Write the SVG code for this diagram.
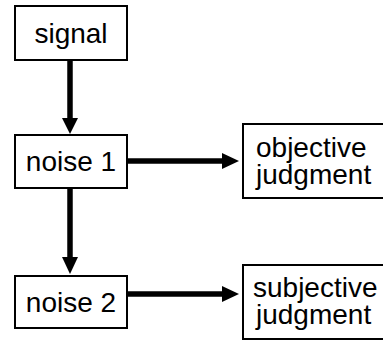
<svg xmlns="http://www.w3.org/2000/svg" width="383" height="341" viewBox="0 0 383 341">
  <style>
    .box { fill: #ffffff; stroke: #000000; stroke-width: 2; }
    .lbl { font-family: "Liberation Sans", Arial, Helvetica, sans-serif; font-size: 28px; fill: #000000; }
    .mid { text-anchor: middle; }
    .edge { stroke: #000000; stroke-width: 5.5; fill: none; }
    .head { fill: #000000; }
  </style>
  <rect width="383" height="341" fill="#ffffff"/>

  <g id="connectors">
    <!-- signal -> noise 1 -->
    <line class="edge" x1="70" y1="60" x2="70" y2="120"/>
    <polygon class="head" points="62,118 78,118 70,134"/>
    <!-- noise 1 -> noise 2 -->
    <line class="edge" x1="70" y1="188" x2="70" y2="259"/>
    <polygon class="head" points="62,257 78,257 70,274"/>
    <!-- noise 1 -> objective judgment -->
    <line class="edge" x1="127" y1="161" x2="224" y2="161"/>
    <polygon class="head" points="222,153 222,169 239,161"/>
    <!-- noise 2 -> subjective judgment -->
    <line class="edge" x1="127" y1="294" x2="224" y2="294"/>
    <polygon class="head" points="222,286 222,302 239,294"/>
  </g>

  <g id="signal">
    <rect class="box" x="15" y="6" width="112" height="54"/>
    <text class="lbl mid" x="71" y="43">signal</text>
  </g>

  <g id="noise1">
    <rect class="box" x="15" y="135" width="112" height="53"/>
    <text class="lbl mid" x="71" y="171">noise 1</text>
  </g>

  <g id="noise2">
    <rect class="box" x="15" y="276" width="112" height="52"/>
    <text class="lbl mid" x="71" y="312">noise 2</text>
  </g>

  <g id="objective">
    <rect class="box" x="243" y="124" width="150" height="74"/>
    <text class="lbl" x="256" y="157">objective</text>
    <text class="lbl" x="256" y="184">judgment</text>
  </g>

  <g id="subjective">
    <rect class="box" x="243" y="265" width="150" height="74"/>
    <text class="lbl" x="253" y="297">subjective</text>
    <text class="lbl" x="256" y="324">judgment</text>
  </g>
</svg>
